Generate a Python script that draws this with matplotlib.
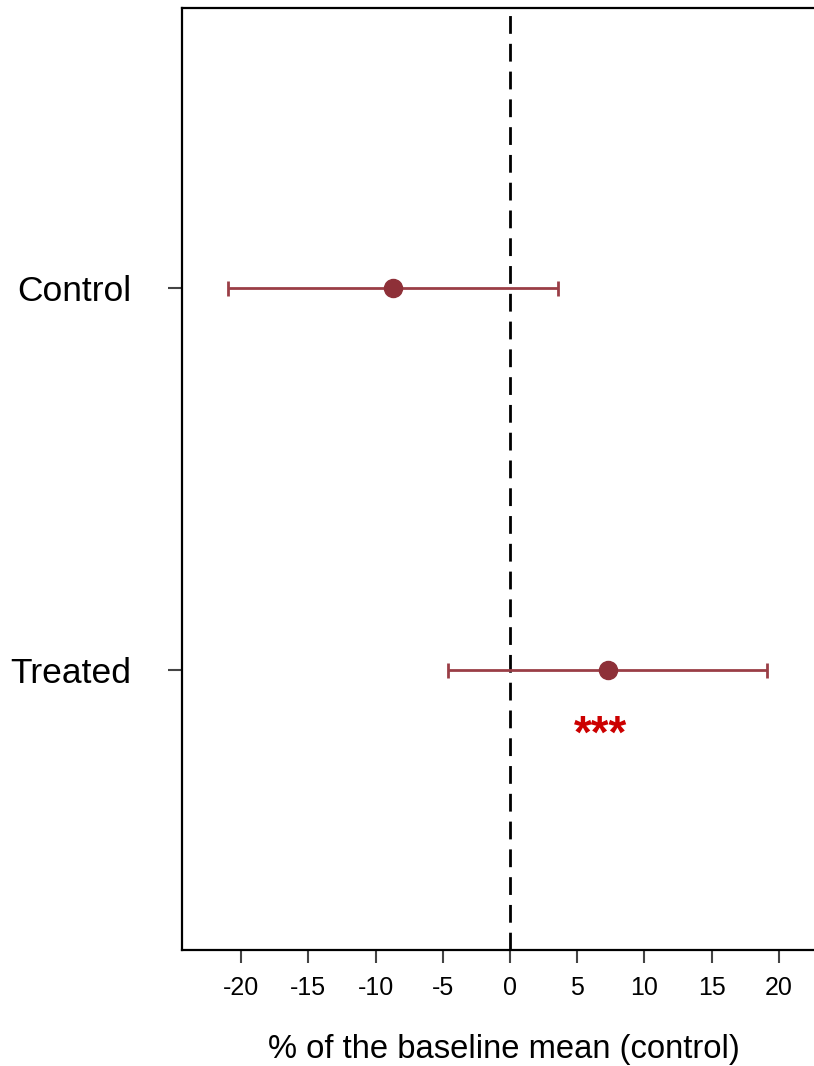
import numpy as np
import matplotlib.pyplot as plt

plt.rcParams['font.family'] = ['Liberation Sans', 'DejaVu Sans']
plt.rcParams['axes.unicode_minus'] = False

# Estimated effects (% of baseline mean) with error half-widths
groups = ['Treated', 'Control']
means = [7.26, -8.68]
errors = [11.88, 12.28]
ypos = np.array([1, 2])
star_label = '***'
star_x = 6.7

point_color = '#8E3038'
bar_color = '#9A3E46'

fig = plt.figure(figsize=(8.14, 10.66), dpi=100)
ax = fig.add_axes([182 / 814, 116 / 1066, 644 / 814, 942 / 1066])

ax.axvline(0, color='black', lw=2, dashes=(6.4, 3.6))

ax.errorbar(means, ypos, xerr=errors, fmt='none', ecolor=bar_color,
            elinewidth=2, capsize=5.4, capthick=2, zorder=3)
ax.plot(means, ypos, 'o', color=point_color, ms=13, zorder=4)

# significance marker under the treated estimate
ax.text(star_x, 0.83, star_label, color='#CC0000', fontsize=33,
        fontweight='bold', ha='center', va='center')

ax.set_xlim(-24.39, 23.5)
ax.set_ylim(0.27, 2.73)
ax.set_xticks(np.arange(-20, 21, 5))
ax.set_yticks(ypos)
ax.set_yticklabels(groups, fontsize=25.5)
ax.tick_params(axis='x', labelsize=18, length=9.5, width=1.5, color='#444444', pad=9)
ax.tick_params(axis='y', length=10, width=1.5, color='#444444', pad=26.5)

for s in ax.spines.values():
    s.set_linewidth(1.6)

ax.set_xlabel('% of the baseline mean (control)', fontsize=23.6, labelpad=24.5)

fig.savefig('out.png', dpi=100)
